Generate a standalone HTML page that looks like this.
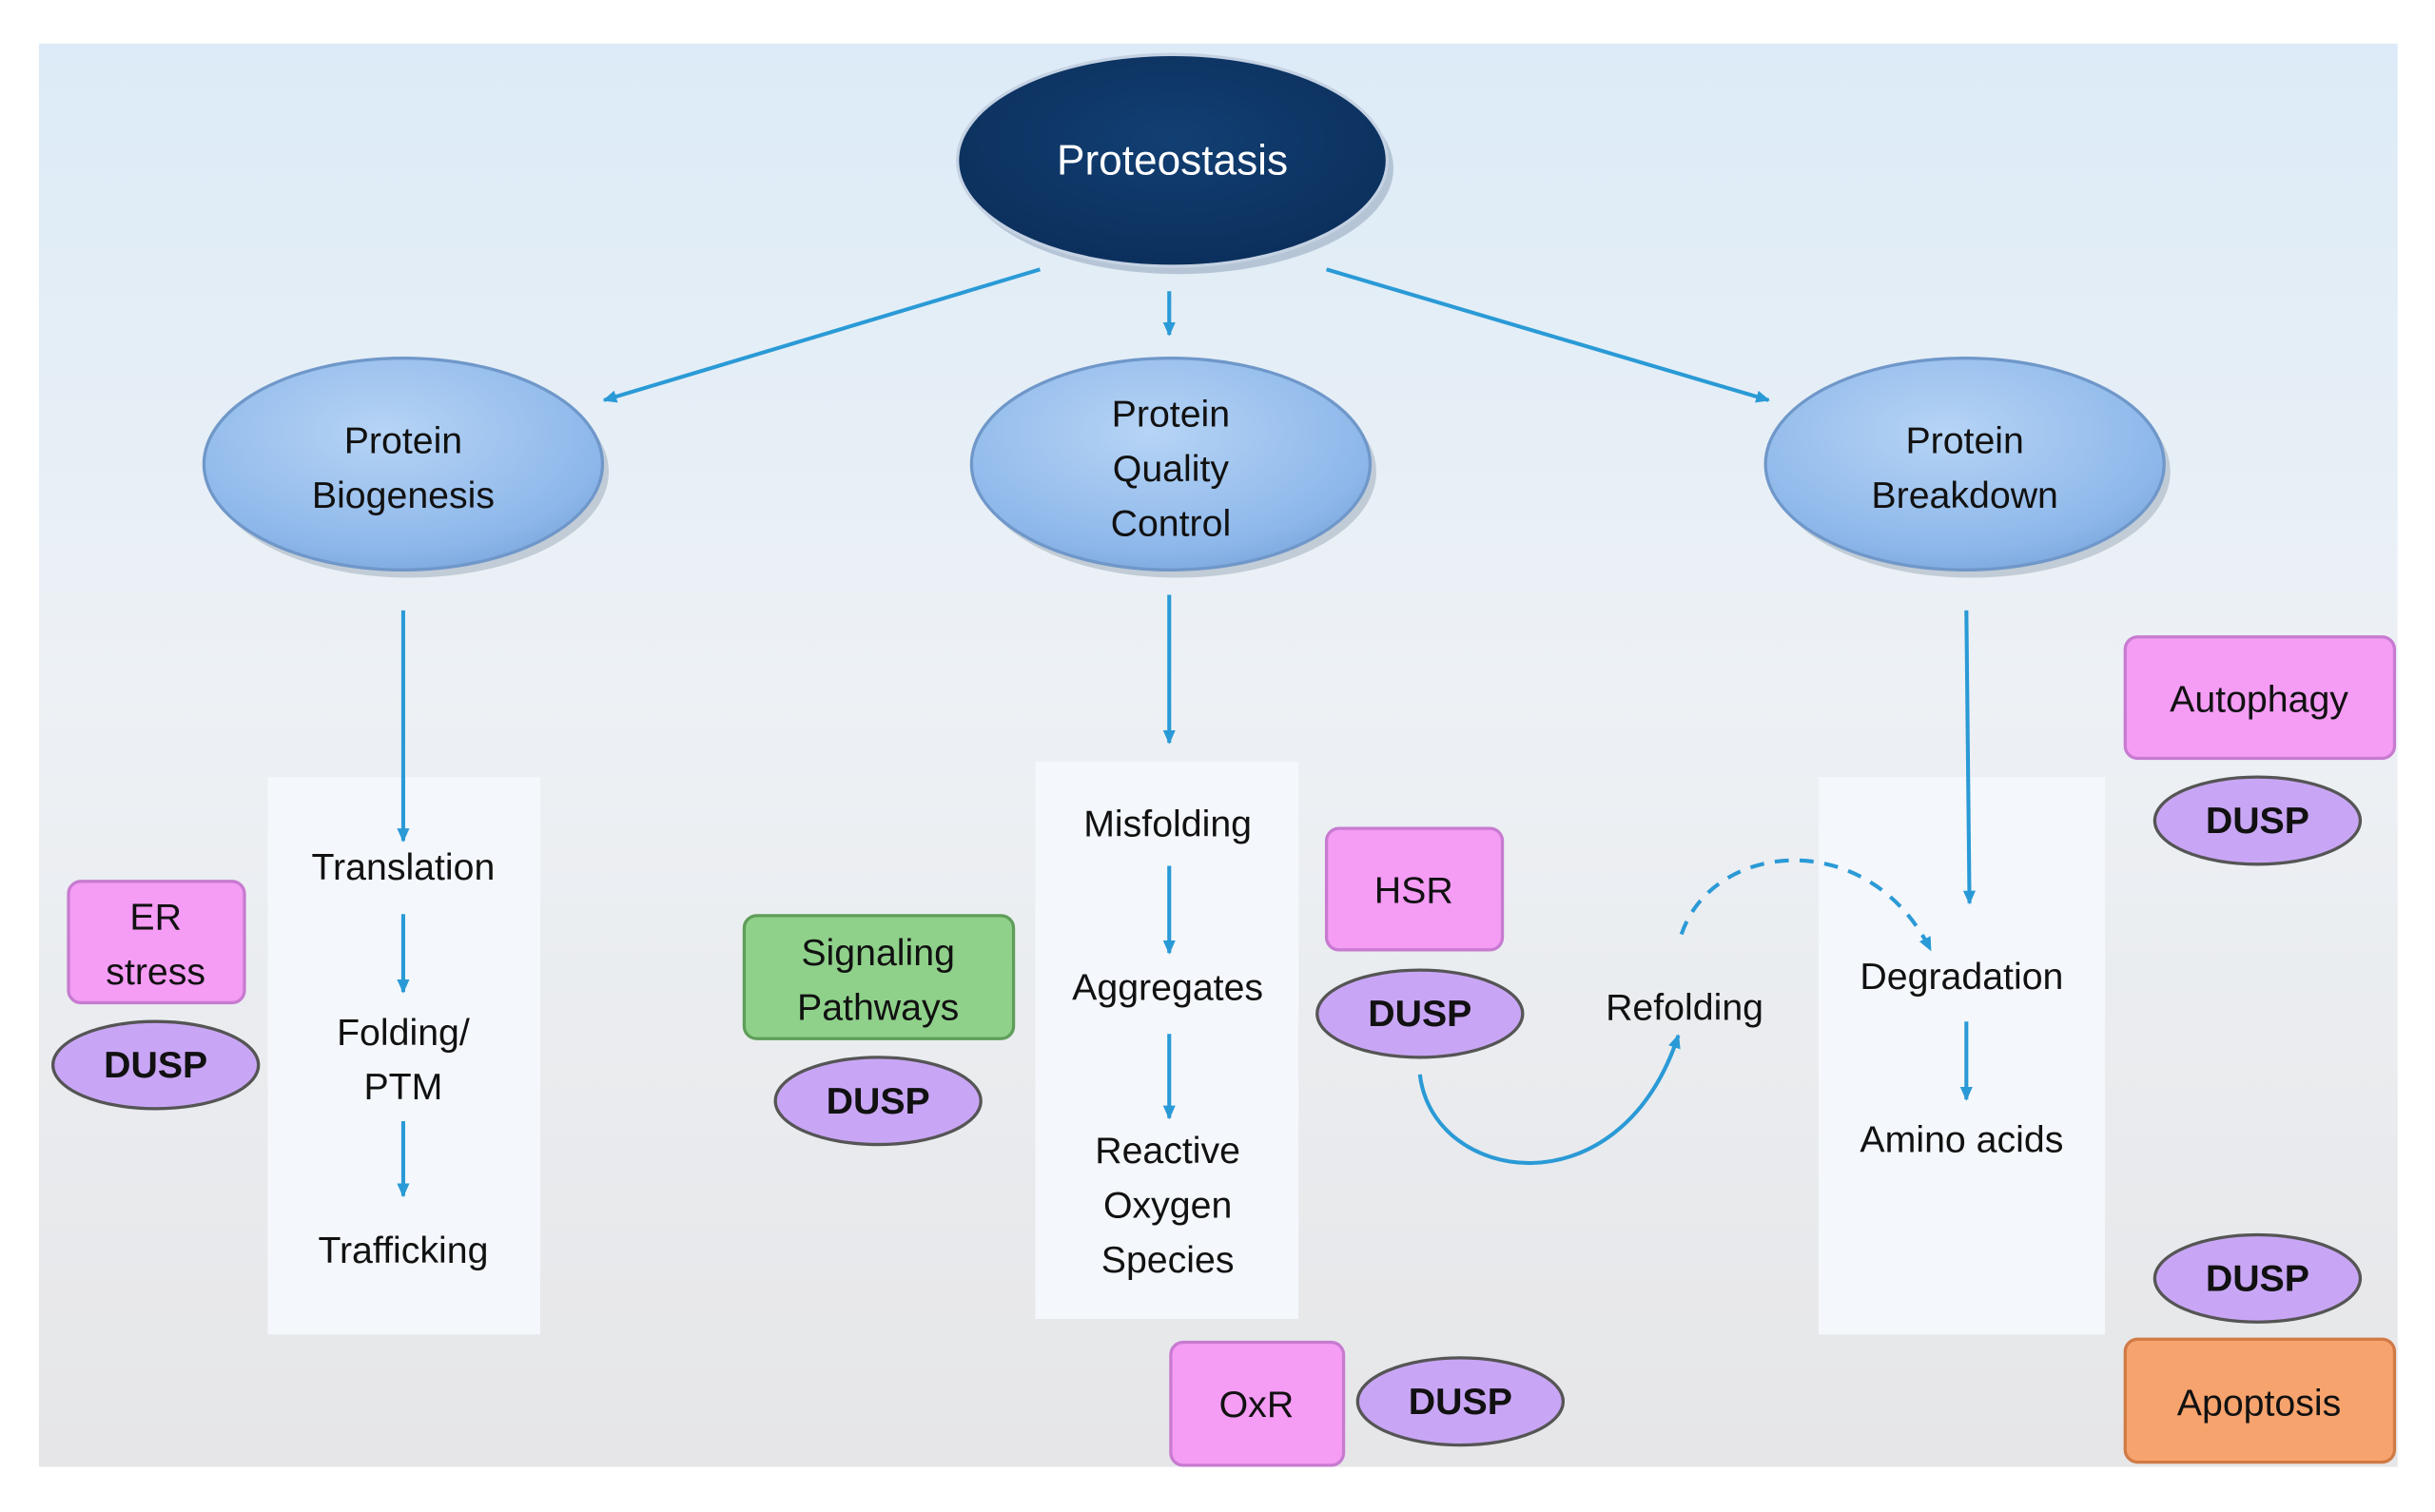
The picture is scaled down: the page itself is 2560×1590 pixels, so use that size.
<!DOCTYPE html>
<html><head><meta charset="utf-8"><style>
html,body{margin:0;padding:0;background:#fff;width:2560px;height:1590px;overflow:hidden}
svg{display:block}
text{font-family:"Liberation Sans",sans-serif;fill:#111;font-size:24px;text-anchor:middle}
.b{font-weight:bold}
</style></head><body>
<svg width="2560" height="1590" viewBox="0 0 1564 971" preserveAspectRatio="none">
<defs>
<linearGradient id="bg" x1="0" y1="0" x2="0" y2="1">
<stop offset="0" stop-color="#dcebf7"/><stop offset="0.45" stop-color="#edf1f5"/><stop offset="1" stop-color="#e6e6e8"/>
</linearGradient>
<radialGradient id="lb" cx="0.45" cy="0.35" r="0.7">
<stop offset="0" stop-color="#b6d4f5"/><stop offset="0.8" stop-color="#8db7ea"/><stop offset="1" stop-color="#7aa6dc"/>
</radialGradient>
<radialGradient id="db" cx="0.5" cy="0.4" r="0.7">
<stop offset="0" stop-color="#123f73"/><stop offset="1" stop-color="#0a2d58"/>
</radialGradient>
<marker id="ar" markerWidth="10" markerHeight="10" refX="8" refY="5" orient="auto" markerUnits="userSpaceOnUse">
<path d="M0,1 L9,5 L0,9 Z" fill="#2a9ad6"/></marker>
</defs>
<rect x="25" y="28" width="1515" height="914" fill="url(#bg)"/>
<!-- top arrows -->
<g stroke="#2a9ad6" stroke-width="2.5" fill="none" marker-end="url(#ar)">
<line x1="668" y1="173" x2="388" y2="257"/>
<line x1="751" y1="187" x2="751" y2="215"/>
<line x1="852" y1="173" x2="1136" y2="257"/>
</g>
<!-- ellipses -->
<ellipse cx="757" cy="108" rx="138" ry="68" fill="#8a9db5" opacity="0.5"/>
<ellipse cx="753" cy="103" rx="138" ry="68" fill="url(#db)" stroke="#c5d2e3" stroke-width="2"/>
<text x="753" y="112" style="fill:#fff;font-size:27px">Proteostasis</text>
<g stroke="#6f97c9" stroke-width="2">
<ellipse cx="263" cy="303" rx="128" ry="68" fill="#9aa8b8" stroke="none" opacity="0.5"/>
<ellipse cx="259" cy="298" rx="128" ry="68" fill="url(#lb)"/>
<ellipse cx="756" cy="303" rx="128" ry="68" fill="#9aa8b8" stroke="none" opacity="0.5"/>
<ellipse cx="752" cy="298" rx="128" ry="68" fill="url(#lb)"/>
<ellipse cx="1266" cy="303" rx="128" ry="68" fill="#9aa8b8" stroke="none" opacity="0.5"/>
<ellipse cx="1262" cy="298" rx="128" ry="68" fill="url(#lb)"/>
</g>
<text x="259" y="291">Protein</text><text x="259" y="326">Biogenesis</text>
<text x="752" y="274">Protein</text><text x="752" y="309">Quality</text><text x="752" y="344">Control</text>
<text x="1262" y="291">Protein</text><text x="1262" y="326">Breakdown</text>
<!-- boxes -->
<rect x="172" y="499" width="175" height="358" fill="#f4f7fb"/>
<rect x="665" y="489" width="169" height="358" fill="#f4f7fb"/>
<rect x="1168" y="499" width="184" height="358" fill="#f4f7fb"/>
<g stroke="#2a9ad6" stroke-width="2.5" fill="none" marker-end="url(#ar)">
<line x1="259" y1="392" x2="259" y2="540"/>
<line x1="751" y1="382" x2="751" y2="477"/>
<line x1="1263" y1="392" x2="1265" y2="580"/>
<line x1="259" y1="587" x2="259" y2="637"/>
<line x1="259" y1="720" x2="259" y2="768"/>
<line x1="751" y1="556" x2="751" y2="612"/>
<line x1="751" y1="664" x2="751" y2="718"/>
<line x1="1263" y1="656" x2="1263" y2="706"/>
<path d="M912,690 C920,760 1040,780 1078,665"/>
<path d="M1080,600 C1100,540 1200,530 1240,610" stroke-dasharray="9,7"/>
</g>
<text x="259" y="565">Translation</text>
<text x="259" y="671">Folding/</text><text x="259" y="706">PTM</text>
<text x="259" y="811">Trafficking</text>
<text x="750" y="537">Misfolding</text>
<text x="750" y="642">Aggregates</text>
<text x="750" y="747">Reactive</text><text x="750" y="782">Oxygen</text><text x="750" y="817">Species</text>
<text x="1260" y="635">Degradation</text>
<text x="1260" y="740">Amino acids</text>
<text x="1082" y="655">Refolding</text>
<!-- pink boxes -->
<g stroke="#c77bd0" stroke-width="2">
<rect x="44" y="566" width="113" height="78" rx="8" fill="#f59cf5"/>
<rect x="852" y="532" width="113" height="78" rx="8" fill="#f59cf5"/>
<rect x="1365" y="409" width="173" height="78" rx="8" fill="#f59cf5"/>
<rect x="752" y="862" width="111" height="79" rx="8" fill="#f59cf5"/>
<rect x="478" y="588" width="173" height="79" rx="8" fill="#8fd18a" stroke="#5f9e5a"/>
<rect x="1365" y="860" width="173" height="79" rx="8" fill="#f7a36e" stroke="#d07a45"/>
</g>
<text x="100" y="597">ER</text><text x="100" y="632">stress</text>
<text x="908" y="580">HSR</text>
<text x="1451" y="457">Autophagy</text>
<text x="807" y="910">OxR</text>
<text x="564" y="620">Signaling</text><text x="564" y="655">Pathways</text>
<text x="1451" y="909">Apoptosis</text>
<!-- DUSP -->
<g fill="#c9a6f5" stroke="#555" stroke-width="2">
<ellipse cx="100" cy="684" rx="66" ry="28"/>
<ellipse cx="564" cy="707" rx="66" ry="28"/>
<ellipse cx="912" cy="651" rx="66" ry="28"/>
<ellipse cx="1450" cy="527" rx="66" ry="28"/>
<ellipse cx="1450" cy="821" rx="66" ry="28"/>
<ellipse cx="938" cy="900" rx="66" ry="28"/>
</g>
<text class="b" x="100" y="692">DUSP</text>
<text class="b" x="564" y="715">DUSP</text>
<text class="b" x="912" y="659">DUSP</text>
<text class="b" x="1450" y="535">DUSP</text>
<text class="b" x="1450" y="829">DUSP</text>
<text class="b" x="938" y="908">DUSP</text>
</svg>
</body></html>
